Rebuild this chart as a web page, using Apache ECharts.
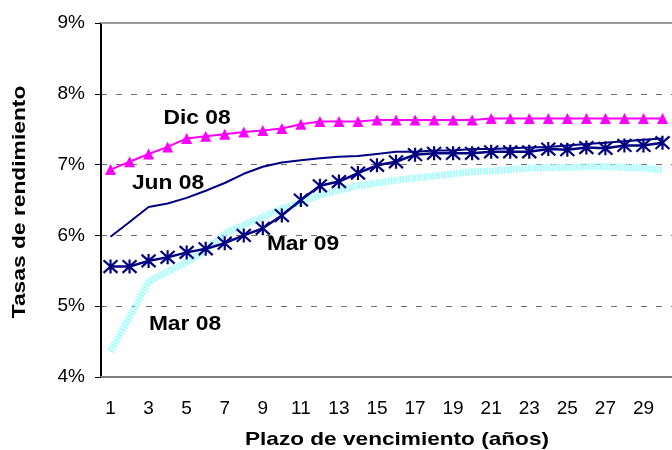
<!DOCTYPE html>
<html>
<head>
<meta charset="utf-8">
<script src="https://cdn.jsdelivr.net/npm/echarts@6/dist/echarts.min.js"></script>
<style>
  html, body { margin: 0; padding: 0; background: #fff; }
  #main { width: 672px; height: 450px; }
</style>
</head>
<body>
<div id="main"></div>
<script>
// plazos (años)
var plazos = [];
for (var i = 1; i <= 30; i++) plazos.push(String(i));

// tasas de rendimiento (%)
var mar08 = [4.36, 4.85, 5.35, 5.49, 5.62, 5.79, 6.03, 6.15, 6.26, 6.38,
             6.47, 6.57, 6.64, 6.70, 6.74, 6.78, 6.81, 6.84, 6.87, 6.90,
             6.91, 6.93, 6.95, 6.96, 6.96, 6.97, 6.97, 6.96, 6.95, 6.92];
var jun08 = [5.98, 6.19, 6.40, 6.45, 6.53, 6.63, 6.74, 6.87, 6.97, 7.03,
             7.06, 7.09, 7.11, 7.12, 7.15, 7.18, 7.18, 7.20, 7.20, 7.22,
             7.22, 7.23, 7.24, 7.25, 7.27, 7.29, 7.31, 7.33, 7.35, 7.37];
var dic08 = [6.93, 7.04, 7.15, 7.25, 7.37, 7.40, 7.43, 7.46, 7.48, 7.51,
             7.57, 7.61, 7.61, 7.61, 7.63, 7.63, 7.63, 7.63, 7.63, 7.63,
             7.65, 7.65, 7.65, 7.65, 7.65, 7.65, 7.65, 7.65, 7.65, 7.65];
var mar09 = [5.56, 5.56, 5.64, 5.69, 5.76, 5.81, 5.89, 6.00, 6.10, 6.28,
             6.50, 6.70, 6.76, 6.88, 6.99, 7.04, 7.14, 7.16, 7.16, 7.16,
             7.18, 7.18, 7.18, 7.22, 7.21, 7.24, 7.23, 7.27, 7.27, 7.31];

var chart = echarts.init(document.getElementById('main'));
var font = 'Liberation Sans, Arial, sans-serif';
var estrella = 'path://M0,-10L0,10M-9,-9L9,9M-9,9L9,-9';

// texto con el ensanche horizontal del original
function rotulo(txt, x, y, size, sx, rot) {
    return {
        type: 'text', x: x, y: y, scaleX: sx, rotation: rot || 0,
        style: { text: txt, font: 'bold ' + size + 'px ' + font, fill: '#000', align: 'center', verticalAlign: 'middle' }
    };
}

var option = {
    animation: false,
    backgroundColor: '#fff',
    grid: { left: 101, top: 23, width: 579, height: 354 },
    xAxis: [{
        type: 'category',
        data: plazos,
        boundaryGap: true,
        axisLine: { lineStyle: { color: '#808080', width: 2 } },
        axisTick: { interval: 0, length: 6, lineStyle: { color: '#000' } },
        axisLabel: { interval: 1, margin: 22, color: '#000', fontSize: 19, fontFamily: font }
    }, {
        type: 'category',
        data: plazos,
        position: 'top',
        axisLine: { lineStyle: { color: '#999', width: 2 } },
        axisTick: { show: false },
        axisLabel: { show: false }
    }],
    yAxis: {
        type: 'value',
        min: 4, max: 9, interval: 1,
        axisLine: { show: true, lineStyle: { color: '#000', width: 2 } },
        axisTick: { show: true, length: 6, lineStyle: { color: '#000' } },
        axisLabel: { formatter: '{value}%', margin: 16, color: '#000', fontSize: 19, fontFamily: font },
        splitLine: { lineStyle: { color: '#707070', type: [6, 9], width: 1 } }
    },
    series: [
        {
            name: 'Mar 08', type: 'line', data: mar08,
            symbol: 'none',
            lineStyle: { color: '#a6ffff', width: 7, type: [2, 1], cap: 'butt' }
        },
        {
            name: 'Jun 08', type: 'line', data: jun08,
            symbol: 'none',
            lineStyle: { color: '#000080', width: 2 }
        },
        {
            name: 'Mar 09', type: 'line', data: mar09,
            symbol: estrella, symbolSize: 14, showAllSymbol: true,
            itemStyle: { color: 'none', borderColor: '#000080', borderWidth: 2.2 },
            lineStyle: { color: '#000080', width: 2.5 }
        },
        {
            name: 'Dic 08', type: 'line', data: dic08,
            symbol: 'triangle', symbolSize: 11, showAllSymbol: true,
            itemStyle: { color: '#ff00ff' },
            lineStyle: { color: '#ff00ff', width: 2 }
        }
    ],
    graphic: [
        rotulo('Dic 08', 197, 118, 20, 1.14),
        rotulo('Jun 08', 168, 183, 20, 1.14),
        rotulo('Mar 08', 185, 324, 20, 1.14),
        rotulo('Mar 09', 303, 244, 20, 1.14),
        rotulo('Plazo de vencimiento (años)', 397, 440, 19, 1.19),
        rotulo('Tasas de rendimiento', 20, 202, 19, 1.2, Math.PI / 2)
    ]
};
chart.setOption(option);
</script>
</body>
</html>
